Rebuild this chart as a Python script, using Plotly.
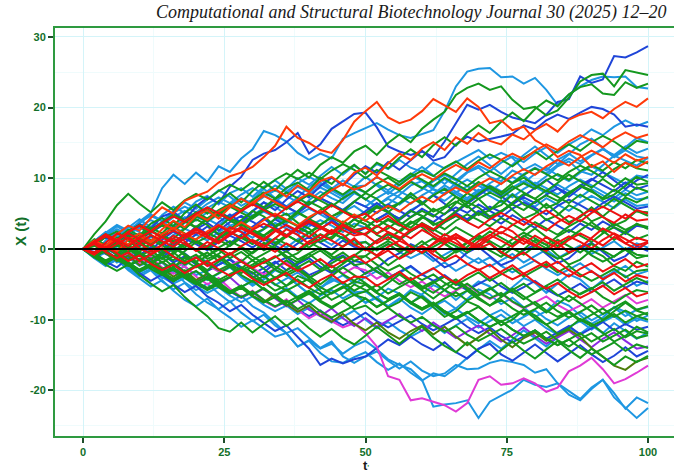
import plotly.graph_objects as go

# time index (every 2nd step of the walk)
t = list(range(0, 101, 2))

cyan_walks = [
    [0,-0.7,1.2,2.5,1.8,3.9,5.1,8.6,10.5,9.2, 10.8,9.5,11.7,10.9,12.8,14.1,16.7,16.1,15.2,13.6,
     12.6,13.5,12.8,15.6,16.4,17.1,17.8,16.9,16.1,15.7, 16.2,16.8,19.5,23.0,25.1,25.5,25.6,24.3,24.4,23.4,
     24.2,22.5,20.4,21.8,23.0,23.9,24.4,24.3,24.4,22.9, 22.7],
    [0,1.1,2.4,1.5,3.0,4.2,3.1,4.8,6.0,5.1, 6.7,7.5,6.3,7.9,8.6,7.4,8.8,9.7,8.5,10.0,
     9.1,10.4,11.6,10.5,11.8,10.7,12.0,11.3,12.6,11.5, 10.9,12.2,11.4,12.3,13.1,14.0,12.8,13.6,12.9,11.2,
     12.0,11.1,12.6,13.5,12.4,13.3,14.2,13.0,14.0,13.1, 12.8],
    [0,-0.9,-2.1,-1.2,-2.8,-3.9,-3.0,-4.6,-5.7,-4.8, -6.4,-7.6,-8.5,-7.4,-9.0,-10.2,-9.3,-10.8,-11.9,-13.8,
     -12.9,-14.1,-13.4,-14.8,-13.7,-13.0,-14.2,-15.6,-16.4,-17.0, -18.5,-22.3,-22.0,-21.8,-21.4,-23.9,-21.6,-20.8,-19.9,-18.5,
     -19.2,-19.5,-19.0,-20.6,-21.4,-19.8,-18.5,-21.0,-22.5,-23.9, -22.5],
    [0,-1.2,-0.3,-1.6,-2.5,-1.4,-2.9,-4.1,-3.2,-4.7, -5.8,-4.9,-6.3,-7.5,-6.6,-8.1,-9.0,-10.4,-11.9,-11.2,
     -12.6,-14.0,-13.1,-15.2,-16.1,-15.2,-14.5,-15.8,-16.9,-15.9, -17.2,-18.0,-17.6,-16.4,-17.0,-16.9,-16.1,-15.7,-16.0,-16.4,
     -17.5,-17.0,-19.0,-20.1,-21.2,-19.6,-18.5,-20.4,-22.6,-21.0, -21.8],
    [0,-1.3,-2.4,-1.5,-3.0,-4.1,-5.3,-4.4,-5.9,-7.2, -8.1,-7.0,-8.6,-9.7,-11.0,-10.1,-11.3,-12.4,-11.9,-13.8,
     -13.0,-14.7,-15.9,-16.1,-15.3,-14.6,-16.0,-17.1,-16.2,-17.5, -18.6,-17.6,-18.0,-16.8,-15.4,-14.2,-13.0,-14.1,-12.8,-11.5,
     -12.6,-13.8,-12.5,-11.2,-12.0,-10.8,-11.9,-10.5,-11.6,-12.7, -11.8],
    [0,-0.9,-2.0,-1.1,-2.4,-3.3,-2.5,-3.7,-4.6,-3.8, -5.0,-4.1,-5.3,-6.2,-5.4,-4.5,-5.7,-6.6,-5.5,-6.8,
     -7.7,-6.6,-5.8,-7.0,-6.1,-6.0,-7.2,-8.1,-7.0,-8.3, -9.2,-8.1,-7.3,-8.5,-9.6,-10.5,-9.4,-8.6,-9.8,-10.9,
     -10.0,-11.2,-12.1,-11.0,-10.2,-11.4,-10.3,-9.5,-10.7,-9.8, -10.3],
    [0,-0.8,0.3,1.2,0.4,1.6,0.7,-0.1,1.1,2.0, 1.2,0.3,1.5,2.4,1.6,0.7,1.9,1.0,0.2,1.4,
     2.3,1.5,0.6,1.8,0.9,1.0,-0.2,0.7,-0.4,-1.3, -0.5,-1.7,-0.8,0.1,-1.1,-2.0,-1.2,-2.4,-3.3,-2.5,
     -1.6,-2.8,-3.7,-2.9,-2.0,-3.2,-4.1,-3.3,-2.4,-3.6, -3.1],
    [0,0.8,1.9,2.8,2.0,3.2,4.1,3.3,4.5,5.4, 4.6,5.8,6.7,5.9,7.1,6.2,7.4,8.3,7.5,6.6,
     7.8,8.7,7.9,7.0,8.2,7.0,6.1,7.3,8.2,7.4, 6.5,7.7,8.6,7.8,6.9,8.1,9.0,8.2,7.3,8.5,
     9.4,8.6,7.7,8.9,9.8,9.0,8.1,7.2,8.4,7.6, 8.1],
    [0,-1.2,-2.3,-1.5,-2.7,-3.6,-2.8,-4.0,-4.9,-4.1, -5.3,-6.2,-5.4,-6.6,-7.5,-6.7,-7.9,-8.8,-8.0,-9.2,
     -8.3,-9.5,-10.4,-9.6,-8.7,-10.0,-11.2,-10.3,-11.5,-12.4, -11.6,-10.7,-11.9,-10.8,-9.9,-11.1,-10.2,-9.3,-10.5,-9.6,
     -8.7,-9.9,-10.8,-9.7,-8.9,-10.1,-9.2,-8.3,-9.5,-8.6, -8.2],
    [0,0.6,-0.5,0.4,1.3,0.5,1.7,0.8,2.0,2.9, 2.1,1.2,2.4,3.3,2.5,1.6,2.8,3.7,2.9,2.0,
     3.2,4.1,3.3,2.4,3.6,3.0,4.2,5.1,4.3,5.5, 6.4,7.6,6.8,8.0,8.9,8.1,9.3,10.2,9.4,10.6,
     11.5,10.7,11.9,12.8,12.0,13.2,14.1,13.3,14.5,13.6, 14.2],
    [0,-1.1,-0.3,-1.5,-2.4,-1.6,-2.8,-1.9,-3.1,-4.0, -3.2,-4.4,-3.5,-2.6,-3.8,-4.7,-3.9,-5.1,-4.2,-3.3,
     -4.5,-5.4,-4.6,-3.7,-4.9,-4.0,-3.1,-4.3,-3.4,-2.5, -3.7,-2.8,-1.9,-3.1,-2.2,-1.3,-2.5,-1.6,-0.7,-1.9,
     -1.0,-0.1,-1.3,-0.4,0.5,-0.7,0.2,1.1,-0.1,0.8, 0.2],
    [0,0.8,1.7,0.9,2.1,3.0,2.2,3.4,2.5,3.7, 4.6,3.8,5.0,4.1,3.2,4.4,5.3,4.5,3.6,4.8,
     5.7,4.9,4.0,5.2,6.1,5.0,6.2,7.1,6.3,7.5, 8.4,9.6,10.5,9.7,10.9,11.8,11.0,12.2,13.1,12.3,
     13.5,14.4,13.6,14.8,15.7,16.9,16.1,17.3,18.2,17.4, 18.0],
    [0,1.2,2.3,3.4,2.6,3.8,4.7,3.9,5.1,6.0, 5.2,6.4,7.3,6.5,7.7,8.6,7.8,9.0,8.1,9.3,
     10.2,9.4,8.5,9.7,8.8,9.0,10.2,9.3,8.4,9.6, 8.7,7.8,9.0,8.1,7.2,8.4,7.5,6.6,7.8,6.9,
     6.0,7.2,6.3,5.4,6.6,7.5,6.7,5.8,7.0,6.1, 6.3],
    [0,-1.3,-0.5,-1.9,-1.1,0.2,-0.6,-2.0,-3.3,-2.4, -1.0,-1.8,-3.2,-2.5,-4.0,-5.2,-4.3,-2.9,-3.7,-5.1,
     -6.4,-5.6,-4.1,-4.9,-6.3,-7.6,-6.8,-8.1,-7.2,-5.8, -6.5,-7.9,-9.2,-8.4,-7.0,-5.7,-6.4,-7.8,-6.9,-8.3,
     -9.6,-8.8,-7.3,-8.0,-9.4,-10.6,-9.7,-8.2,-8.9,-10.2, -9.4],
    [0,1.3,0.5,1.9,3.2,2.4,1.1,1.8,3.4,4.5, 4.0,5.2,4.6,3.3,3.9,5.4,6.6,6.0,4.8,5.3,
     6.9,8.1,7.2,6.5,7.9,7.1,5.8,6.3,7.7,9.0, 9.6,8.4,7.9,9.3,10.8,11.5,10.2,9.6,11.1,10.4,
     9.1,10.3,11.7,12.4,11.0,10.5,11.9,13.2,12.5,11.8, 12.9],
    [0,-0.5,0.8,0.1,-1.2,-2.4,-1.7,-0.4,-1.1,-2.5, -3.7,-3.0,-1.7,-2.4,-3.8,-5.0,-4.3,-3.0,-3.7,-5.1,
     -6.3,-5.6,-4.3,-5.0,-6.4,-7.6,-6.9,-5.6,-6.3,-7.7, -6.4,-5.1,-5.8,-7.2,-5.9,-4.6,-5.3,-6.7,-5.4,-4.1,
     -4.8,-6.2,-4.9,-3.6,-4.3,-5.7,-4.4,-3.1,-3.8,-5.2, -4.5],
    [0,0.9,2.0,3.2,2.3,3.6,4.9,4.0,5.3,6.6, 5.7,7.0,8.3,7.4,6.1,7.0,8.5,7.2,6.0,7.3,
     8.8,9.9,8.6,7.5,8.9,10.2,9.0,7.8,9.1,10.5, 11.6,10.4,9.2,10.6,12.0,13.1,11.9,10.6,11.9,13.3,
     14.5,13.2,12.0,13.4,14.8,15.6,14.3,13.0,14.4,15.7, 15.1],
    [0,1.2,0.4,1.6,2.5,1.7,2.9,3.8,3.0,4.2, 5.1,4.3,3.4,4.6,5.5,4.7,5.9,6.8,6.0,5.1,
     6.3,7.2,6.4,5.5,6.7,6.0,7.2,8.1,7.3,6.4, 7.6,8.5,7.7,8.9,9.8,9.0,8.1,9.3,10.2,9.4,
     10.6,11.5,10.4,9.6,10.8,11.7,10.9,10.0,9.2,10.4, 10.1],
    [0,1.1,0.3,1.5,2.4,3.3,2.5,3.7,4.6,3.8, 5.0,5.9,5.1,6.3,7.2,6.4,7.6,6.7,7.9,8.8,
     8.0,9.2,8.3,7.4,8.6,8.0,9.2,8.3,9.5,10.4, 9.6,8.7,9.9,9.0,8.1,9.3,8.4,7.5,8.7,9.6,
     8.8,7.9,9.1,8.2,7.3,8.5,7.6,6.7,7.9,7.0, 7.2],
]

blue_walks = [
    [0,0.8,1.9,1.1,2.4,3.5,2.9,4.6,5.2,4.1, 6.0,7.3,6.5,8.8,10.2,12.6,13.5,14.0,15.1,16.4,
     13.5,14.8,17.0,18.0,19.1,19.3,17.2,14.5,13.8,13.3, 13.8,13.0,15.2,17.8,20.4,19.7,20.4,19.4,18.6,18.2,
     17.8,19.0,20.8,21.2,24.4,23.5,24.0,27.3,27.1,27.8, 28.7],
    [0,0.6,-0.5,-1.3,-0.4,0.9,-0.2,1.3,2.5,1.6, 3.2,2.1,3.8,4.9,3.7,5.3,6.6,5.5,7.0,8.2,
     7.3,8.9,10.1,9.0,10.5,11.7,10.8,12.3,11.2,12.6, 13.9,12.5,13.0,14.8,15.9,15.2,15.5,15.9,16.3,17.5,
     16.9,18.2,19.0,18.4,19.3,20.1,19.8,19.0,17.3,17.6, 17.3],
    [0,-0.8,-1.9,-1.0,-2.3,-3.4,-4.5,-3.6,-5.0,-6.1, -5.2,-6.7,-7.6,-8.8,-7.9,-9.3,-10.5,-11.6,-10.8,-12.4,
     -14.1,-16.4,-15.5,-16.2,-15.6,-15.2,-14.0,-12.8,-13.6,-12.4, -13.5,-14.3,-13.2,-14.6,-15.5,-14.1,-13.4,-14.9,-15.8,-14.6,
     -13.5,-14.7,-15.9,-14.8,-13.6,-14.9,-16.0,-15.1,-13.9,-15.2, -14.4],
    [0,0.6,1.7,0.9,2.1,1.2,2.4,3.3,2.5,1.6, 2.8,3.7,2.6,3.8,4.7,3.9,3.0,4.2,3.3,2.4,
     3.6,2.8,4.0,3.1,2.2,3.0,4.2,5.1,4.3,5.5, 4.6,3.8,5.0,5.9,5.1,6.3,5.4,4.5,5.7,6.6,
     5.8,4.9,6.1,7.0,6.2,5.3,6.5,7.4,6.6,5.7, 6.0],
    [0,-0.9,0.1,-0.8,0.3,-0.6,-1.5,-0.7,-1.9,-1.0, -2.2,-3.1,-2.3,-1.4,-2.6,-3.5,-2.7,-1.8,-3.0,-2.1,
     -1.3,-2.5,-3.4,-2.6,-1.7,-2.0,-3.2,-4.1,-3.3,-2.4, -3.6,-4.5,-3.7,-4.9,-5.8,-5.0,-4.1,-5.3,-6.2,-5.4,
     -4.5,-5.7,-6.6,-5.8,-4.9,-6.1,-5.2,-4.3,-5.5,-4.6, -5.0],
    [0,1.0,0.2,1.4,2.3,1.5,2.7,3.6,2.8,4.0, 4.9,4.1,5.3,4.4,5.6,6.5,5.7,6.9,6.0,5.1,
     6.3,7.2,6.4,5.5,6.7,6.0,5.1,6.3,5.4,4.5, 5.7,4.8,3.9,5.1,4.2,5.4,4.5,3.6,4.8,3.9,
     3.0,4.2,3.3,2.4,3.6,2.7,3.9,3.0,2.1,3.3, 3.0],
    [0,-0.8,-1.7,-0.9,-2.1,-3.0,-2.2,-3.4,-4.3,-3.5, -4.7,-5.6,-4.8,-6.0,-6.9,-6.1,-7.3,-8.2,-7.4,-8.6,
     -9.5,-8.7,-9.9,-10.8,-10.0,-9.0,-10.2,-11.1,-10.3,-9.4, -10.6,-11.5,-10.7,-9.8,-11.0,-11.9,-11.1,-12.3,-13.2,-12.4,
     -11.5,-12.7,-11.8,-10.9,-12.1,-11.2,-10.3,-11.5,-10.6,-11.4, -11.0],
    [0,-1.0,-0.1,0.8,0.0,-0.9,0.3,-0.6,0.6,1.5, 0.7,-0.2,1.0,1.9,1.1,0.2,1.4,0.5,-0.4,0.8,
     1.7,0.9,0.0,1.2,0.3,0.0,1.2,2.1,1.3,2.5, 3.4,2.6,3.8,4.7,3.9,5.1,6.0,5.2,6.4,7.3,
     6.5,7.7,8.6,7.8,9.0,9.9,9.1,8.2,9.4,8.5, 9.0],
    [0,-0.4,-1.8,-2.6,-1.3,-0.5,-1.9,-1.2,0.1,-0.6, -1.9,-3.1,-2.2,-1.5,-2.8,-4.0,-3.3,-2.0,-1.2,-2.5,
     -3.7,-3.0,-1.6,-0.9,-2.2,-3.5,-2.7,-1.4,-0.6,0.7, 0.0,-1.3,-2.6,-1.9,-0.5,0.3,-1.0,-2.3,-1.6,-0.2,
     0.6,-0.7,-2.0,-1.3,0.1,0.9,-0.4,-1.7,-1.0,0.4, -0.3],
    [0,0.6,-0.7,-1.5,-0.4,0.8,1.9,0.9,-0.3,0.9, 2.1,3.2,2.0,0.8,2.0,3.2,4.3,3.1,1.9,3.1,
     4.3,5.4,4.2,3.0,4.2,5.4,6.5,5.3,4.1,5.3, 6.5,7.6,6.4,5.2,6.4,7.6,8.7,7.5,6.3,7.5,
     8.7,9.8,8.6,7.4,8.6,9.8,10.9,9.7,8.5,9.7, 10.5],
]

magenta_walks = [
    [0,0.7,-0.4,-1.5,-0.8,-2.0,-1.1,-2.6,-3.5,-2.4, -3.9,-5.0,-4.1,-5.6,-6.8,-5.9,-7.3,-8.2,-7.1,-8.6,
     -9.8,-8.9,-10.2,-11.1,-10.5,-11.9,-13.8,-18.0,-18.5,-21.4, -21.1,-21.6,-22.1,-23.0,-21.8,-18.5,-18.0,-19.2,-19.0,-18.3,
     -19.0,-20.2,-19.6,-17.3,-16.5,-15.4,-17.0,-19.0,-18.4,-17.5, -16.5],
    [0,0.6,-0.3,-1.2,-0.4,-1.6,-0.7,-1.9,-2.8,-2.0, -1.1,-2.3,-3.2,-2.4,-1.5,-2.7,-3.6,-2.8,-1.9,-3.1,
     -4.0,-3.2,-2.3,-3.5,-2.6,-3.0,-4.2,-3.3,-4.5,-5.4, -4.6,-5.8,-6.7,-5.9,-5.0,-6.2,-7.1,-6.3,-7.5,-8.4,
     -7.6,-6.7,-7.9,-8.8,-8.0,-7.1,-8.3,-7.4,-6.5,-7.7, -7.2],
]

purple_walks = [
    [0,-0.6,0.5,-0.4,-1.5,-0.6,-1.9,-3.0,-2.1,-3.5, -4.6,-3.7,-5.1,-4.0,-5.4,-6.5,-5.6,-7.0,-8.1,-7.2,
     -8.6,-9.5,-8.4,-9.8,-10.9,-9.8,-11.0,-10.1,-9.2,-10.5, -11.6,-10.4,-11.5,-12.6,-11.7,-10.8,-12.0,-13.1,-12.2,-11.1,
     -12.3,-13.4,-12.5,-11.6,-12.8,-13.9,-12.7,-11.8,-13.0,-14.1, -13.8],
]

olive_walks = [
    [0,0.5,-0.6,-1.7,-0.9,-2.3,-1.4,-2.8,-3.9,-3.0, -4.4,-3.5,-4.9,-6.1,-5.2,-6.6,-7.5,-6.4,-7.8,-8.9,
     -8.0,-9.4,-10.3,-9.2,-10.6,-11.5,-10.4,-11.8,-12.7,-11.6, -10.8,-12.1,-11.0,-12.4,-13.6,-12.5,-11.4,-12.8,-13.9,-12.6,
     -11.8,-13.0,-12.2,-11.4,-12.4,-14.0,-15.2,-16.5,-17.1,-15.9, -15.4],
]

green_walks = [
    [0,0.9,-0.3,1.4,2.7,1.9,3.6,4.4,3.2,5.1, 6.3,5.0,6.8,7.9,6.6,8.2,9.5,8.3,9.9,11.2,
     10.1,11.9,13.0,12.2,13.8,14.6,13.3,15.0,16.2,15.1, 17.0,18.3,19.4,21.8,22.8,23.4,22.5,23.0,21.1,19.8,
     20.1,18.9,19.6,21.4,23.7,24.6,24.8,23.0,25.3,24.9, 24.6],
    [0,-1.1,-0.2,1.0,0.3,1.8,3.0,2.2,3.9,2.8, 4.5,5.6,4.7,6.1,5.2,6.9,8.0,7.1,8.7,9.4,
     8.3,10.1,9.2,10.8,11.9,10.6,12.2,11.4,12.9,14.1, 13.0,14.7,15.8,14.6,16.3,17.5,16.4,18.0,19.3,18.1,
     19.8,21.0,20.2,21.9,22.9,23.3,22.0,21.8,23.6,22.8, 23.4],
    [0,-1.0,-2.2,-3.1,-2.2,-3.7,-4.9,-6.0,-5.1,-6.8, -8.2,-9.5,-11.2,-11.7,-10.4,-11.8,-10.6,-9.5,-10.9,-9.8,
     -11.2,-12.4,-11.3,-12.6,-13.5,-12.3,-11.0,-12.2,-13.4,-12.1, -11.0,-12.5,-13.7,-14.6,-13.2,-14.5,-15.6,-14.3,-13.1,-14.4,
     -15.5,-14.2,-13.0,-14.3,-15.4,-14.1,-15.3,-16.4,-15.2,-16.0, -15.1],
    [0,0.8,1.9,1.1,2.3,1.5,2.8,3.6,2.7,3.9, 3.0,4.2,5.1,4.0,3.2,4.5,5.6,4.8,3.9,5.2,
     4.3,5.5,6.4,5.3,4.6,5.0,6.1,5.2,6.5,7.4, 6.3,7.6,8.5,7.4,6.6,7.8,8.9,8.0,9.3,10.1,
     9.0,8.2,9.4,10.5,9.6,8.7,9.9,8.8,10.0,9.1, 9.3],
    [0,-0.7,0.4,-0.5,-1.6,-0.8,-2.0,-1.2,-2.5,-1.6, -0.8,-2.1,-3.0,-2.2,-3.4,-2.5,-1.7,-2.9,-3.8,-2.9,
     -4.1,-3.2,-2.4,-3.6,-4.5,-3.4,-2.6,-3.9,-5.0,-4.1, -5.3,-6.2,-5.1,-4.3,-5.5,-6.6,-5.7,-4.8,-6.0,-7.1,
     -6.2,-5.3,-6.5,-7.4,-6.3,-5.5,-6.8,-7.7,-6.6,-5.8, -6.1],
    [0,1.0,2.1,1.3,2.5,3.4,2.6,3.8,4.9,4.0, 5.2,4.3,5.5,6.4,5.6,6.8,5.9,7.1,8.0,7.2,
     6.3,7.5,8.6,7.7,8.9,8.0,9.2,10.1,9.0,10.2, 11.1,10.3,11.5,12.4,11.3,12.5,13.4,12.6,11.7,12.9,
     13.8,12.7,13.9,14.8,13.9,15.1,16.0,15.2,14.1,15.3, 15.0],
    [0,-1.1,-0.3,-1.5,-2.4,-1.6,-2.8,-3.7,-2.9,-4.1, -5.0,-4.2,-5.4,-6.3,-5.5,-6.7,-7.6,-6.8,-8.0,-7.1,
     -6.3,-7.5,-8.4,-7.3,-8.5,-8.0,-9.2,-8.3,-9.5,-10.4, -9.6,-10.8,-11.7,-10.9,-12.1,-13.0,-12.2,-11.3,-12.5,-13.4,
     -12.6,-11.7,-12.9,-13.8,-12.7,-11.9,-13.1,-12.2,-11.4,-12.6, -12.2],
    [0,0.7,-0.4,0.5,-0.6,-1.5,-0.7,-1.9,-1.0,-2.2, -1.3,-0.5,-1.7,-0.8,0.1,-1.1,-2.0,-1.2,-0.3,-1.5,
     -0.6,0.2,-1.0,-1.9,-1.1,-1.0,0.2,1.1,0.3,-0.6, 0.6,1.5,0.7,-0.2,1.0,1.9,1.1,0.2,1.4,2.3,
     1.5,0.6,1.8,2.7,1.9,1.0,2.2,3.1,2.3,1.4, 2.0],
    [0,1.1,0.2,1.4,2.3,1.5,2.7,3.6,2.8,4.0, 3.1,4.3,5.2,4.4,3.5,4.7,5.6,4.8,3.9,5.1,
     4.2,3.4,4.6,5.5,4.7,4.0,3.1,4.3,3.4,2.5, 3.7,2.8,1.9,3.1,2.2,1.3,2.5,1.6,0.7,1.9,
     1.0,0.1,1.3,0.4,-0.5,0.7,-0.2,-1.1,0.1,-0.8, -1.0],
    [0,-0.6,0.5,-0.4,-1.5,-0.7,-1.9,-2.8,-2.0,-3.2, -2.3,-3.5,-4.4,-3.6,-2.7,-3.9,-4.8,-4.0,-5.2,-4.3,
     -5.5,-6.4,-5.6,-4.7,-5.9,-5.0,-6.2,-7.1,-6.3,-7.5, -8.4,-7.6,-8.8,-9.7,-8.9,-10.1,-11.0,-10.2,-11.4,-12.3,
     -11.5,-12.7,-13.6,-12.8,-14.0,-14.9,-14.1,-13.2,-14.4,-13.5, -14.0],
    [0,2.1,3.9,6.2,7.8,6.4,5.2,6.6,5.5,6.9, 7.8,7.0,8.2,9.1,8.3,9.5,8.6,9.8,10.7,9.9,
     10.8,9.9,11.1,12.0,11.2,10.0,11.2,10.3,9.5,10.7, 9.8,8.9,10.1,9.2,8.3,9.5,8.6,7.7,8.9,8.0,
     7.1,8.3,7.4,6.5,7.7,6.8,5.9,7.1,6.2,5.3, 5.2],
    [0,-0.7,0.4,1.3,0.5,-0.4,0.8,1.7,0.9,2.1, 1.2,0.3,1.5,2.4,1.6,0.7,1.9,2.8,2.0,1.1,
     2.3,3.2,2.4,1.5,2.7,2.0,3.2,4.1,3.3,4.5, 5.4,4.6,5.8,6.7,5.9,7.1,8.0,7.2,8.4,9.3,
     8.5,9.7,10.6,9.8,11.0,11.9,11.1,12.3,11.4,12.6, 12.1],
    [0,-0.8,-1.9,-1.0,-2.2,-3.1,-2.3,-3.5,-2.6,-3.8, -4.7,-3.9,-5.1,-6.0,-5.2,-6.4,-5.5,-6.7,-7.6,-6.8,
     -5.9,-7.1,-6.2,-5.3,-6.5,-6.0,-5.1,-6.3,-5.4,-4.5, -5.7,-4.8,-3.9,-5.1,-4.2,-3.3,-4.5,-3.6,-2.7,-3.9,
     -3.0,-2.1,-3.3,-2.4,-3.6,-4.5,-3.7,-2.8,-4.0,-3.1, -2.9],
    [0,-1.0,-0.2,0.7,-0.1,-1.0,-0.2,-1.4,-0.5,-1.7, -2.6,-1.8,-0.9,-2.1,-3.0,-2.2,-1.3,-2.5,-3.4,-2.6,
     -1.7,-2.9,-2.0,-1.1,-2.3,-2.0,-3.2,-4.1,-3.3,-4.5, -5.4,-4.6,-5.8,-6.7,-5.9,-7.1,-8.0,-7.2,-8.4,-9.3,
     -8.5,-7.6,-8.8,-9.7,-8.9,-8.0,-9.2,-8.3,-7.4,-8.6, -8.1],
    [0,-0.9,0.2,1.1,0.3,1.5,0.6,-0.3,0.9,1.8, 1.0,0.1,1.3,0.4,1.6,2.5,1.7,0.8,2.0,1.1,
     0.2,1.4,2.3,1.5,0.6,1.0,-0.2,0.7,-0.4,0.5, -0.6,0.3,1.2,0.4,-0.5,0.7,-0.2,-1.1,0.1,-0.8,
     0.4,-0.5,-1.4,-0.6,0.3,-0.9,-1.8,-1.0,-0.1,-1.3, -0.9],
    [0,0.9,1.8,1.0,2.2,1.3,2.5,3.4,2.6,3.8, 4.7,3.9,5.1,6.0,5.2,4.3,5.5,6.4,5.6,6.8,
     7.7,6.9,6.0,7.2,8.1,7.0,8.2,9.1,8.3,9.5, 8.6,9.8,10.7,9.9,8.9,10.1,11.0,10.2,9.3,10.5,
     11.4,10.6,9.7,10.9,11.8,11.0,10.1,11.3,12.2,11.4, 11.1],
    [0,1.2,0.4,-0.5,0.7,1.6,0.8,2.0,1.1,0.2, 1.4,2.3,1.5,2.7,3.6,2.8,1.9,3.1,4.0,3.2,
     2.3,3.5,4.4,3.6,2.7,3.0,4.2,3.3,2.4,3.6, 4.5,3.7,2.8,4.0,4.9,4.1,3.2,4.4,3.5,2.6,
     3.8,2.9,2.0,3.2,4.1,3.3,2.4,3.6,2.7,3.5, 3.1],
    [0,-0.7,-1.6,-0.8,-2.0,-2.9,-2.1,-3.3,-4.2,-3.4, -4.6,-5.5,-4.7,-5.9,-6.8,-6.0,-7.2,-8.1,-7.3,-8.5,
     -7.6,-8.8,-9.7,-8.9,-8.0,-7.0,-8.2,-7.3,-6.4,-7.6, -6.7,-7.9,-7.0,-6.1,-7.3,-6.4,-5.5,-6.7,-5.8,-4.9,
     -6.1,-5.2,-4.3,-5.5,-6.4,-5.6,-4.7,-5.9,-5.0,-4.1, -4.8],
    [0,0.8,-0.3,0.6,-0.5,0.4,1.3,0.5,-0.4,0.8, -0.1,-1.0,0.2,1.1,0.3,-0.6,0.6,1.5,0.7,-0.2,
     1.0,0.1,-0.8,0.4,1.3,0.0,1.2,2.1,1.3,2.5, 3.4,2.6,3.8,4.7,3.9,5.1,4.2,5.4,6.3,5.5,
     6.7,7.6,6.8,8.0,8.9,8.1,7.2,8.4,7.5,8.7, 8.1],
    [0,-0.9,0.2,-0.7,0.4,-0.5,-1.4,-0.6,0.3,-0.9, -1.8,-1.0,-0.1,-1.3,-0.4,-1.6,-0.7,0.2,-1.0,-1.9,
     -1.1,-0.2,-1.4,-0.5,-1.7,-1.0,-2.2,-3.1,-2.3,-3.5, -4.4,-3.6,-4.8,-5.7,-4.9,-6.1,-7.0,-6.2,-7.4,-8.3,
     -7.5,-8.7,-9.6,-8.8,-10.0,-10.9,-10.1,-9.2,-10.4,-9.5, -10.0],
    [0,1.4,0.6,-0.9,-0.3,1.2,2.6,1.8,3.1,2.2, 0.9,1.7,3.0,4.4,3.6,2.1,2.8,4.3,5.0,3.7,
     2.9,1.5,2.3,3.9,3.1,4.6,5.9,5.2,3.8,3.0, 4.4,5.7,4.9,6.5,7.9,7.1,5.6,6.2,7.7,6.3,
     5.5,4.1,4.8,6.2,5.4,3.9,4.6,6.0,7.3,6.6, 7.4],
    [0,0.4,1.7,2.5,1.2,-0.1,0.6,-0.8,-1.6,-0.3, 1.0,0.2,-1.2,-2.5,-1.8,-0.4,0.9,0.1,-1.3,-0.6,
     0.8,2.1,1.4,2.9,4.2,3.5,2.0,1.3,2.6,3.9, 3.1,1.7,0.9,-0.5,0.3,1.6,0.8,-0.6,-1.4,-0.1,
     1.3,0.6,-0.9,-2.2,-1.5,-0.2,-1.0,-2.4,-3.1,-1.8, -2.5],
    [0,-0.6,-1.9,-1.2,0.1,-0.7,-2.0,-3.3,-2.6,-1.2, -2.0,-3.4,-4.7,-4.0,-2.6,-3.3,-4.7,-5.9,-5.2,-3.8,
     -4.5,-5.9,-7.2,-6.4,-5.0,-5.8,-7.1,-8.3,-7.5,-6.1, -6.9,-8.2,-9.6,-8.8,-7.4,-8.1,-9.5,-10.8,-10.0,-8.6,
     -9.4,-10.7,-12.0,-11.2,-9.9,-10.6,-11.9,-13.1,-12.3,-11.0, -11.8],
    [0,0.7,2.0,1.3,2.6,3.3,2.0,0.8,1.5,2.9, 4.2,3.4,2.1,2.8,4.1,5.4,4.6,3.3,4.0,5.4,
     6.7,5.9,4.6,5.3,6.7,7.9,7.1,5.8,6.5,7.9, 6.6,5.3,6.0,7.4,6.1,4.8,5.5,6.9,5.6,4.3,
     5.0,6.4,5.1,3.8,4.5,5.9,4.6,3.3,4.0,5.4, 4.7],
    [0,1.1,-0.2,0.5,1.8,1.1,-0.2,-1.4,-0.7,0.6, -0.1,-1.4,-0.7,0.6,1.8,1.1,-0.2,0.5,1.8,3.0,
     2.3,1.0,1.7,3.0,4.2,3.5,2.2,2.9,4.2,5.4, 4.7,3.4,4.1,5.4,6.6,5.9,4.6,5.3,6.6,7.8,
     7.1,5.8,6.5,7.8,9.0,8.3,7.0,7.7,9.0,10.2, 9.5],
    [0,-1.2,-2.1,-0.9,-1.8,-3.0,-2.2,-3.5,-4.6,-3.4, -2.3,-3.6,-4.8,-3.9,-2.7,-1.6,-2.8,-4.1,-3.0,-1.8,
     -0.7,-1.9,-3.2,-2.1,-0.9,0.2,-1.0,-2.3,-1.2,0.0, 1.1,-0.1,-1.4,-0.3,0.9,2.0,0.8,-0.5,0.6,1.8,
     2.9,1.7,0.4,1.5,2.7,3.8,2.6,1.3,2.4,3.6, 2.8],
    [0,-0.8,0.5,1.6,0.4,-0.9,-2.0,-0.8,0.4,-0.7, -1.9,-3.0,-1.8,-0.6,-1.7,-2.9,-4.0,-2.8,-1.6,-2.7,
     -3.9,-5.0,-3.8,-2.6,-3.7,-4.9,-6.0,-4.8,-3.6,-4.7, -5.9,-7.0,-5.8,-4.6,-5.7,-6.9,-8.0,-6.8,-5.6,-6.7,
     -7.9,-9.0,-7.8,-6.6,-7.7,-8.9,-10.0,-8.8,-7.6,-8.7, -9.3],
    [0,-1.0,-1.9,-1.1,-2.3,-3.2,-2.4,-3.6,-4.5,-3.7, -4.9,-5.8,-5.0,-6.2,-5.3,-4.5,-5.7,-6.6,-5.8,-7.0,
     -6.1,-7.3,-8.2,-7.4,-6.5,-7.0,-8.2,-7.3,-6.5,-7.7, -8.6,-7.8,-9.0,-9.9,-9.1,-8.2,-9.4,-10.3,-9.5,-8.6,
     -9.8,-10.7,-9.9,-9.0,-10.2,-9.3,-8.4,-9.6,-8.7,-9.5, -9.0],
    [0,-1.1,-0.2,-1.4,-2.3,-1.5,-2.7,-1.8,-3.0,-3.9, -3.1,-4.3,-3.4,-2.5,-3.7,-4.6,-3.8,-5.0,-5.9,-5.1,
     -4.2,-5.4,-6.3,-5.5,-4.6,-5.0,-6.2,-7.1,-6.3,-7.5, -8.4,-7.6,-8.8,-9.7,-8.9,-10.1,-11.0,-10.2,-11.4,-12.3,
     -11.5,-12.7,-13.6,-12.8,-11.9,-13.1,-12.2,-11.3,-12.5,-11.6, -12.0],
]

orange_walks = [
    [0,1.2,0.4,2.1,3.3,2.6,4.4,5.9,5.0,6.8, 7.5,8.1,9.4,10.3,10.8,11.6,13.0,14.6,17.3,15.7,
     15.0,14.0,13.6,15.4,18.0,19.5,20.8,18.6,17.8,18.3, 19.5,21.2,20.3,19.4,21.3,20.1,17.8,18.2,16.8,17.3,
     15.4,14.5,13.0,13.9,13.3,11.6,12.4,10.9,12.2,11.5, 12.4],
    [0,-0.8,0.5,-0.4,1.3,2.2,1.1,2.8,4.0,3.1, 4.7,5.5,4.3,5.9,7.1,6.2,7.8,8.5,7.4,9.0,
     8.1,9.6,10.2,9.1,10.8,11.5,10.4,12.1,13.5,12.6, 14.2,15.1,14.0,15.8,14.9,16.4,15.3,14.8,16.2,15.5,
     16.8,17.7,16.6,18.3,19.0,19.4,18.5,19.8,20.8,20.1, 21.3],
    [0,0.9,2.0,1.2,2.4,3.3,2.5,3.7,2.8,4.0, 4.9,4.1,5.3,6.2,5.4,6.6,7.5,6.7,5.8,7.0,
     7.9,7.1,8.3,9.2,8.4,9.0,10.2,9.3,8.5,9.7, 10.6,9.8,11.0,11.9,11.1,12.3,11.4,12.6,13.5,12.7,
     13.9,14.8,14.0,15.2,16.1,15.3,14.4,15.6,16.5,15.7, 16.2],
    [0,-0.6,0.5,1.4,0.6,1.8,0.9,2.1,3.0,2.2, 1.3,2.5,3.4,2.6,3.8,2.9,4.1,5.0,4.2,3.3,
     4.5,5.4,4.6,3.7,4.9,4.0,5.2,6.1,5.3,6.5, 7.4,6.6,7.8,8.7,7.9,9.1,10.0,9.2,10.4,11.3,
     10.5,11.7,12.6,11.8,13.0,13.9,13.1,12.2,13.4,12.5, 13.0],
]

red_walks = [
    [0,0.9,-0.2,0.7,1.6,0.8,2.0,1.1,0.3,1.5, 2.4,1.6,0.8,2.0,2.9,2.1,1.2,2.5,3.4,2.6,
     1.7,2.9,3.8,2.7,1.9,2.2,3.3,2.4,1.5,2.7, 3.6,2.8,4.0,4.9,3.8,3.0,4.2,5.1,4.3,3.4,
     4.6,5.5,4.4,3.5,4.7,5.6,4.5,3.7,4.9,4.0, 4.2],
    [0,-0.8,0.3,-0.6,-1.7,-0.9,-2.1,-3.0,-2.2,-3.4, -2.5,-1.7,-2.9,-3.8,-3.0,-4.2,-5.1,-4.3,-3.4,-4.6,
     -5.5,-4.4,-3.6,-4.8,-3.9,-4.0,-5.2,-4.3,-3.2,-4.4, -3.5,-2.7,-3.9,-4.8,-3.7,-2.9,-4.1,-3.2,-2.3,-3.5,
     -2.6,-1.8,-3.0,-3.9,-2.8,-2.0,-3.2,-2.3,-1.4,-2.6, -2.1],
    [0,0.9,1.8,1.0,-0.1,0.8,-0.3,0.6,1.5,0.7, -0.2,1.0,0.1,-0.8,0.4,1.3,0.5,-0.4,0.8,-0.1,
     1.1,2.0,1.2,0.3,1.5,0.0,-0.9,0.3,1.2,0.4, -0.5,0.7,1.6,0.8,-0.1,1.1,2.0,1.2,0.3,1.5,
     0.6,-0.3,0.9,1.8,1.0,0.1,1.3,2.2,1.4,0.5, 1.0],
    [0,1.0,2.1,1.2,2.4,3.3,2.5,3.7,4.6,3.8, 5.0,5.9,5.1,4.2,5.4,6.3,5.5,4.6,5.8,6.7,
     5.9,5.0,6.2,5.3,4.4,5.0,3.8,4.7,3.5,2.6, 3.4,2.2,1.3,2.1,0.9,0.0,0.8,-0.4,-1.3,-0.5,
     -1.7,-2.6,-1.8,-3.0,-3.9,-3.1,-4.3,-3.4,-4.6,-3.7, -4.1],
    [0,0.7,-0.4,-1.3,-0.5,-1.7,-0.8,0.1,-1.1,-2.0, -1.2,-2.4,-1.5,-0.6,-1.8,-2.7,-1.9,-1.0,-2.2,-3.1,
     -2.3,-1.4,-2.6,-1.7,-0.8,-2.0,-1.1,-0.2,-1.4,-0.5, 0.4,-0.4,0.8,1.7,0.9,2.1,3.0,2.2,3.4,4.3,
     3.5,2.6,3.8,4.7,3.9,5.1,6.0,5.2,4.3,5.5, 5.0],
    [0,0.9,0.1,1.3,2.2,1.4,0.5,1.7,2.6,1.8, 2.7,1.9,1.0,2.2,3.1,2.3,1.4,2.6,1.7,2.9,
     3.8,3.0,2.1,3.3,2.4,2.0,0.8,1.7,0.5,-0.4, 0.4,-0.8,-1.7,-0.9,-2.1,-3.0,-2.2,-3.4,-4.3,-3.5,
     -4.7,-5.6,-4.8,-6.0,-6.9,-6.1,-5.2,-6.4,-5.5,-6.7, -6.2],
    [0,1.0,0.1,1.3,0.4,1.6,2.5,1.7,0.8,2.0, 2.9,2.1,3.3,2.4,1.5,2.7,3.6,2.8,1.9,3.1,
     4.0,3.2,2.3,3.5,2.6,3.0,2.1,3.3,2.4,1.5, 2.7,1.8,0.9,2.1,1.2,0.3,1.5,2.4,1.6,0.7,
     1.9,1.0,0.1,1.3,2.2,1.4,0.5,1.7,0.8,1.6, 1.1],
    [0,-0.5,0.9,2.2,1.5,0.1,-0.7,0.6,1.9,1.1, -0.3,0.4,1.8,3.1,2.4,1.0,0.2,1.5,2.8,2.0,
     0.7,1.4,2.7,2.0,0.6,-0.2,1.1,2.4,1.7,0.3, -0.5,0.8,2.1,1.3,-0.1,0.6,1.9,3.2,2.5,1.1,
     0.4,1.7,0.9,-0.5,0.2,1.6,2.9,2.1,0.8,0.0, 0.9],
]

x_ticks = [0, 25, 50, 75, 100]
y_ticks = [-20, -10, 0, 10, 20, 30]

groups = [
    ("#1E97E2", cyan_walks),
    ("#1F45D8", blue_walks),
    ("#E03AD6", magenta_walks),
    ("#8A2BE2", purple_walks),
    ("#4C7D0A", olive_walks),
    ("#14981E", green_walks),
    ("#FF3A0A", orange_walks),
    ("#EE1111", red_walks),
]

fig = go.Figure()
for color, walks in groups:
    for w in walks:
        n = min(len(w), len(t))
        fig.add_trace(go.Scatter(x=t[:n], y=w[:n], mode="lines",
                                 line=dict(color=color, width=2),
                                 hoverinfo="skip", showlegend=False))

tick_font = dict(family="Liberation Sans", size=11, color="#13702A", weight="bold")

fig.update_layout(
    width=674, height=473,
    margin=dict(l=55, r=0, t=28, b=37),
    paper_bgcolor="white", plot_bgcolor="white",
    xaxis=dict(range=[-4.96, 104.6], tickvals=x_ticks, ticktext=[str(v) for v in x_ticks],
               showgrid=True, gridcolor="#D4F4F9", gridwidth=1,
               minor=dict(dtick=12.5, tick0=0, showgrid=True, gridcolor="#EFFBFC", gridwidth=1),
               zeroline=False, showline=True, linecolor="#2E9A40", linewidth=2, mirror=True,
               ticks="outside", ticklen=5, tickwidth=1.5, tickcolor="#1E4D2B",
               tickfont=tick_font),
    yaxis=dict(range=[-26.45, 31.26], tickvals=y_ticks, ticktext=[str(v) for v in y_ticks],
               showgrid=True, gridcolor="#D4F4F9", gridwidth=1,
               minor=dict(dtick=5, tick0=0, showgrid=True, gridcolor="#EFFBFC", gridwidth=1),
               zeroline=False, showline=True, linecolor="#2E9A40", linewidth=2, mirror=False,
               ticks="outside", ticklen=5, tickwidth=1.5, tickcolor="#1E4D2B",
               tickfont=tick_font),
)

# horizontal reference line at X(t) = 0, drawn above the paths
fig.add_shape(type="line", xref="paper", x0=0, x1=1, yref="y", y0=0, y1=0,
              line=dict(color="black", width=2), layer="above")

fig.add_annotation(text="Computational and Structural Biotechnology Journal 30 (2025) 12\u201320",
                   xref="paper", yref="paper", x=1, y=1, xanchor="right", yanchor="bottom",
                   xshift=-6, yshift=3, showarrow=False,
                   font=dict(family="Liberation Serif", size=18, color="#1a1a1a", style="italic"))

fig.add_annotation(text="X (t)", xref="paper", yref="paper", x=0, y=0.5, xanchor="center",
                   yanchor="middle", xshift=-35, textangle=-90, showarrow=False,
                   font=dict(family="Liberation Sans", size=15, color="#13702A", weight="bold"))

fig.add_annotation(text="t<span style='color:#2E9A40;font-size:8px'>'</span>", xref="x", yref="paper",
                   x=50, y=0, xanchor="center", yanchor="top", yshift=-20, showarrow=False,
                   font=dict(family="Liberation Sans", size=13, color="#1a1a1a", weight="bold"))

fig.write_html("out.html", config={"displayModeBar": False},
               post_script="document.body.style.margin='0px';")
